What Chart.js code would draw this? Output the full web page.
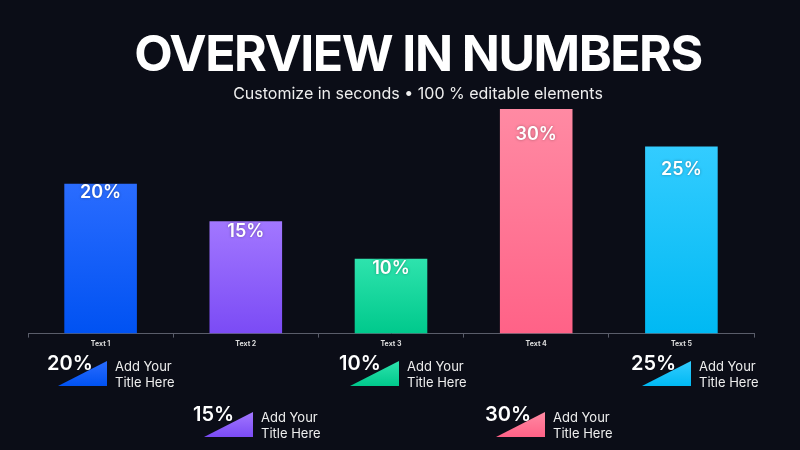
<!DOCTYPE html>
<html>
<head>
<meta charset="utf-8">
<script src="https://cdn.jsdelivr.net/npm/chart.js@4"></script>
<style>
  html, body { margin: 0; padding: 0; background: #0b0d17; }
  #wrap { position: relative; width: 800px; height: 450px; overflow: hidden; font-family: Inter, "Noto Sans", sans-serif; color: #fff; }
  #chart { position: absolute; left: 0; top: 0; }
  h1 { position: absolute; left: 0; width: 836px; top: 23px; margin: 0; text-align: center; font-size: 50px; font-weight: 700; letter-spacing: -1.5px; }
  .sub { position: absolute; left: 0; width: 836px; top: 83px; text-align: center; font-size: 16px; font-weight: 400; color: #eee; }
  .item { position: absolute; width: 150px; height: 40px; }
  .item .num { position: absolute; left: 0; top: -2px; font-size: 20px; font-weight: 600; }
  .item .tri { position: absolute; left: 11px; top: 8px; width: 49px; height: 25px; clip-path: polygon(100% 0, 100% 100%, 0 100%); }
  .item .lbl { position: absolute; left: 68px; top: 5px; font-size: 13px; line-height: 16px; color: #eee; }
</style>
</head>
<body>
<div id="wrap">
  <canvas id="chart" width="800" height="450"></canvas>
  <h1>OVERVIEW IN NUMBERS</h1>
  <div class="sub">Customize in seconds • 100 % editable elements</div>
  <div id="items"></div>
</div>
<script>
const categories = ["Text 1", "Text 2", "Text 3", "Text 4", "Text 5"]
const values = [20, 15, 10, 30, 25]
const itemTitles = ["Add Your<br>Title Here", "Add Your<br>Title Here", "Add Your<br>Title Here", "Add Your<br>Title Here", "Add Your<br>Title Here"]
const topColors = ["#2a6cff", "#a277ff", "#2ee3ad", "#ff8aa3", "#33ccff"]
const bottomColors = ["#0052f2", "#7b4bf5", "#00c98c", "#ff6287", "#00b9f3"]
// how far each value label sits below its bar top
const labelOffsets = [7, 8, 8, 24, 21]

function barGradient(ctx) {
  const chart = ctx.chart
  if (!chart.chartArea || ctx.dataIndex === undefined) return topColors[0]
  const i = ctx.dataIndex
  const y = chart.scales.y
  const g = chart.ctx.createLinearGradient(0, y.getPixelForValue(values[i]), 0, y.getPixelForValue(0))
  g.addColorStop(0, topColors[i])
  g.addColorStop(1, bottomColors[i])
  return g
}

const valueLabels = {
  id: "valueLabels",
  afterDatasetsDraw(chart) {
    const ctx = chart.ctx
    const meta = chart.getDatasetMeta(0)
    ctx.save()
    ctx.font = "600 18px Inter, sans-serif"
    ctx.fillStyle = "#ffffff"
    ctx.textAlign = "center"
    ctx.textBaseline = "top"
    ctx.shadowColor = "rgba(0,0,0,0.35)"
    ctx.shadowBlur = 3
    meta.data.forEach((bar, i) => {
      ctx.fillText(values[i] + "%", bar.x, bar.y + labelOffsets[i] - 7)
    })
    ctx.restore()
  }
}

new Chart(document.getElementById("chart"), {
  type: "bar",
  data: {
    labels: categories,
    datasets: [{
      data: values,
      backgroundColor: barGradient,
      barPercentage: 0.5,
      categoryPercentage: 1.0
    }]
  },
  options: {
    responsive: false,
    animation: false,
    layout: { padding: { left: 28, right: 46, top: 109, bottom: 100 } },
    plugins: { legend: { display: false }, tooltip: { enabled: false } },
    scales: {
      x: {
        grid: { display: true, drawOnChartArea: false, color: "#5a5d6a", tickLength: 4, offset: true },
        border: { color: "#5a5d6a" },
        ticks: { color: "#dddddd", font: { size: 7, weight: "bold", family: "Inter" }, padding: 2 }
      },
      y: { display: false, min: 0, max: 30 }
    }
  },
  plugins: [valueLabels]
})

// annotation items under the axis, alternating rows
const items = document.getElementById("items")
values.forEach((v, i) => {
  const el = document.createElement("div")
  el.className = "item"
  el.style.left = (47 + i * 146) + "px"
  el.style.top = (i % 2 === 0 ? 353 : 404) + "px"
  el.innerHTML = `<div class="num">${v}%</div>
    <div class="tri" style="background: linear-gradient(180deg, ${topColors[i]}, ${bottomColors[i]})"></div>
    <div class="lbl">${itemTitles[i]}</div>`
  items.appendChild(el)
})
</script>
</body>
</html>
